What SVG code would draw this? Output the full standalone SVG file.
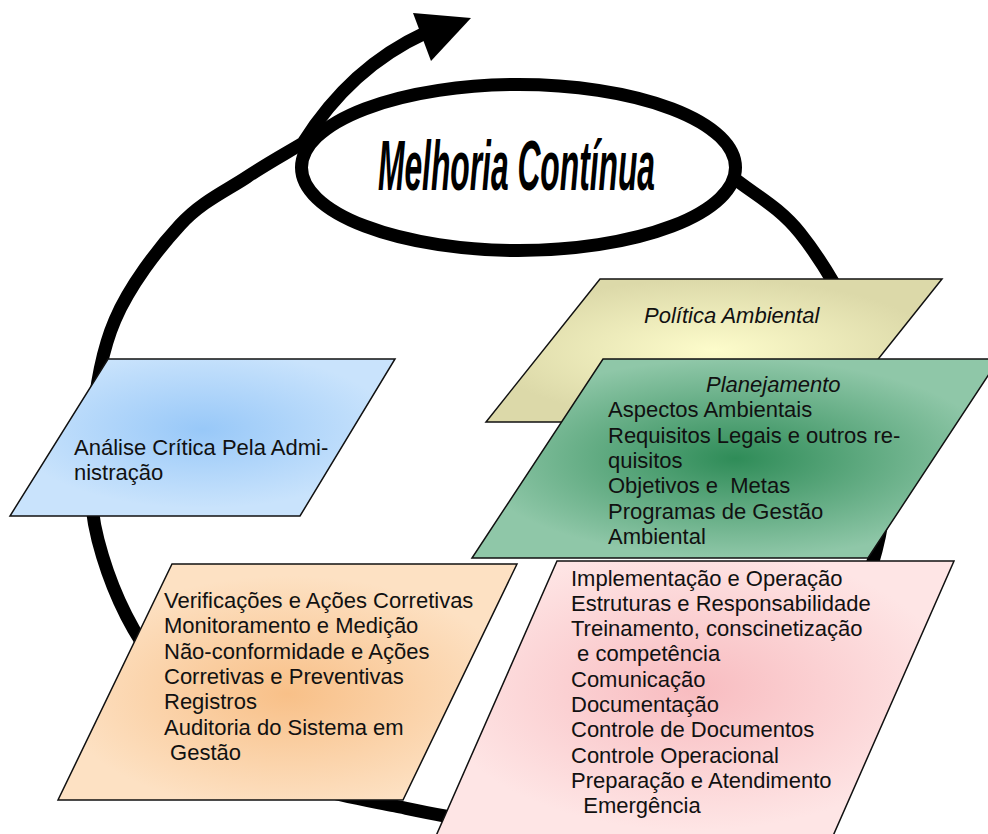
<svg xmlns="http://www.w3.org/2000/svg" width="988" height="834" viewBox="0 0 988 834">
<style>
.t{font-family:"Liberation Sans",Arial,sans-serif;font-size:22px;fill:#111;white-space:pre}
.it{font-style:italic}
.box{stroke:#111;stroke-width:1.5;stroke-linejoin:miter}
.arc{fill:none;stroke:#000;stroke-width:13;stroke-linejoin:round}
</style>
<defs>
<radialGradient id="gBlue" cx="0.5" cy="0.45" r="0.5"><stop offset="0" stop-color="#98c8f8"/><stop offset="1" stop-color="#c9e3fc"/></radialGradient>
<radialGradient id="gYellow" cx="0.5" cy="0.5" r="0.5"><stop offset="0" stop-color="#fdfccb"/><stop offset="1" stop-color="#dcd9a9"/></radialGradient>
<radialGradient id="gGreen" cx="0.5" cy="0.5" r="0.5"><stop offset="0" stop-color="#2f8c58"/><stop offset="1" stop-color="#8fc7a8"/></radialGradient>
<radialGradient id="gOrange" cx="0.5" cy="0.55" r="0.5"><stop offset="0" stop-color="#f8c088"/><stop offset="1" stop-color="#fde1c3"/></radialGradient>
<radialGradient id="gPink" cx="0.5" cy="0.45" r="0.5"><stop offset="0" stop-color="#f8bcc0"/><stop offset="1" stop-color="#fee5e5"/></radialGradient>
</defs>

<g id="connectors">
<path class="arc" d="M730,175 C753.3,194.3 778,205.5 800,233 C822,260.5 847.7,303.8 862,340 C876.3,376.2 884.3,412.5 886,450 C887.7,487.5 883.8,526.7 872,565 C860.2,603.3 845.3,645 815,680 C784.7,715 735.8,751.3 690,775 C644.2,798.7 589.2,816.8 540,822 C490.8,827.2 442.5,815.8 395,806 C347.5,796.2 295.8,788.2 255,763 C214.2,737.8 176.2,692.2 150,655 C123.8,617.8 107.7,577.5 98,540 C88.3,502.5 89.2,466.7 92,430 C94.8,393.3 100.3,354.2 115,320 C129.7,285.8 158,248.8 180,225 C202,201.2 226.5,190.7 247,177 C267.5,163.3 284.3,154.3 303,143 C325,108 362,62 425,33"/>
<polygon points="413,13 471,18 431,61" fill="#000"/>
</g>

<g id="melhoria">
<ellipse cx="518.5" cy="167.5" rx="217" ry="83" fill="#fff" stroke="#000" stroke-width="13"/>
<text x="378" y="190" font-family="'Liberation Sans',Arial,sans-serif" font-weight="bold" font-style="italic" font-size="70" textLength="277" lengthAdjust="spacingAndGlyphs" fill="#000">Melhoria Contínua</text>
</g>

<g id="analise">
<polygon class="box" points="108,359 395,359 300,516 10,516" fill="url(#gBlue)"/>
<text class="t" x="74" y="455">Análise Crítica Pela Admi-</text>
<text class="t" x="74" y="480">nistração</text>
</g>

<g id="politica">
<polygon class="box" points="600,279 942,279 828,422 486,422" fill="url(#gYellow)"/>
<text class="t it" x="644" y="323">Política Ambiental</text>
</g>

<g id="planejamento">
<polygon class="box" points="603,359 999,359 868,558 472,558" fill="url(#gGreen)"/>
<text class="t it" x="706" y="392">Planejamento</text>
<text class="t" x="608" y="417.3">Aspectos Ambientais</text>
<text class="t" x="608" y="442.6">Requisitos Legais e outros re-</text>
<text class="t" x="608" y="467.9">quisitos</text>
<text class="t" x="608" y="493.2">Objetivos e  Metas</text>
<text class="t" x="608" y="518.5">Programas de Gestão</text>
<text class="t" x="608" y="543.8">Ambiental</text>
</g>

<g id="verificacoes">
<polygon class="box" points="172,564 517,564 403,800 58,800" fill="url(#gOrange)"/>
<text class="t" x="164" y="608">Verificações e Ações Corretivas</text>
<text class="t" x="164" y="633.3">Monitoramento e Medição</text>
<text class="t" x="164" y="658.6">Não-conformidade e Ações</text>
<text class="t" x="164" y="683.9">Corretivas e Preventivas</text>
<text class="t" x="164" y="709.2">Registros</text>
<text class="t" x="164" y="734.5">Auditoria do Sistema em</text>
<text class="t" x="164" y="759.8"> Gestão</text>
</g>

<g id="implementacao">
<polygon class="box" points="557,561 954,561 829,845 432,845" fill="url(#gPink)"/>
<text class="t" x="571" y="585.5">Implementação e Operação</text>
<text class="t" x="571" y="610.8">Estruturas e Responsabilidade</text>
<text class="t" x="571" y="636.1">Treinamento, conscinetização</text>
<text class="t" x="571" y="661.4"> e competência</text>
<text class="t" x="571" y="686.7">Comunicação</text>
<text class="t" x="571" y="712">Documentação</text>
<text class="t" x="571" y="737.3">Controle de Documentos</text>
<text class="t" x="571" y="762.6">Controle Operacional</text>
<text class="t" x="571" y="787.9">Preparação e Atendimento</text>
<text class="t" x="571" y="813.2">  Emergência</text>
</g>
</svg>
